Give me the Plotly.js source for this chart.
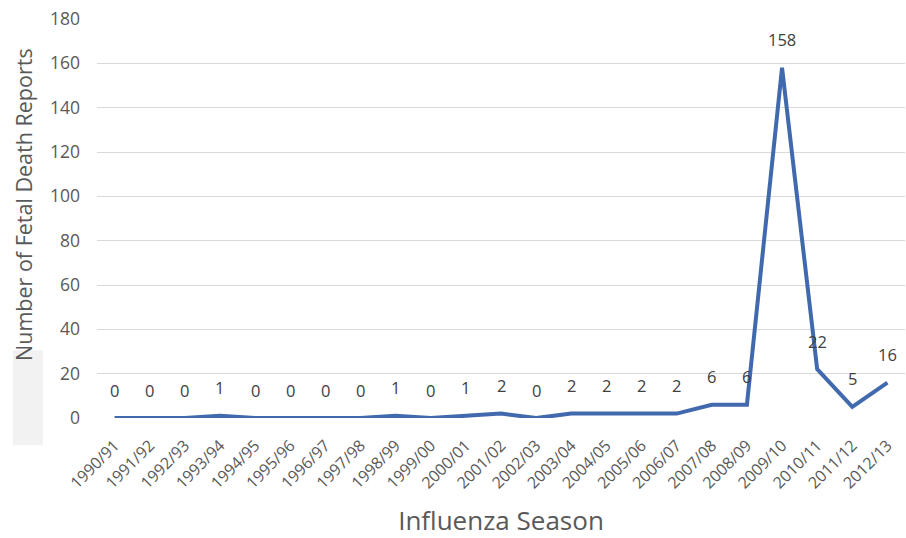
<!DOCTYPE html>
<html>
<head>
<meta charset="utf-8">
<script src="https://cdn.plot.ly/plotly-3.0.1.min.js"></script>
<style>html,body{margin:0;padding:0;background:#fff;}#chart{width:906px;height:538px;}</style>
</head>
<body>
<div id="chart"></div>
<script>
const seasons = ["1990/91","1991/92","1992/93","1993/94","1994/95","1995/96","1996/97","1997/98","1998/99","1999/00","2000/01","2001/02","2002/03","2003/04","2004/05","2005/06","2006/07","2007/08","2008/09","2009/10","2010/11","2011/12","2012/13"];
const reports = [0,0,0,1,0,0,0,0,1,0,1,2,0,2,2,2,2,6,6,158,22,5,16];
const yTicks = [0,20,40,60,80,100,120,140,160,180];

const trace = {
  x: seasons, y: reports, type: 'scatter', mode: 'lines',
  line: {color: '#4169AE', width: 4}, hoverinfo: 'skip'
};
const annotations = seasons.map((s, i) => ({
  x: s, y: reports[i], xref: 'x', yref: 'y', text: String(reports[i]),
  showarrow: false, yshift: 28,
  font: {family: 'Open Sans, Liberation Sans, sans-serif', size: 16.5, color: '#404040'}
}));
annotations.push({
  xref: 'paper', yref: 'paper', x: -0.0903, y: 0.534, textangle: -90,
  text: 'Number of Fetal Death Reports', showarrow: false,
  xanchor: 'center', yanchor: 'middle',
  font: {family: 'Open Sans, Liberation Sans, sans-serif', size: 21.5, color: '#595959'}
});
const layout = {
  width: 906, height: 538,
  margin: {l: 97, r: 1, t: 19, b: 120},
  paper_bgcolor: '#ffffff', plot_bgcolor: '#ffffff',
  showlegend: false,
  font: {family: 'Open Sans, Liberation Sans, sans-serif', color: '#595959'},
  xaxis: {
    type: 'category', range: [-0.5, 22.5], tickangle: -45,
    showgrid: false, zeroline: false, showline: false, ticks: '',
    ticklabelstandoff: 14,
    tickfont: {size: 16, color: '#595959'},
    title: {text: 'Influenza Season', font: {size: 26, color: '#595959'}, standoff: 24}
  },
  yaxis: {
    range: [0, 180], tickvals: yTicks, ticktext: yTicks.map(String),
    showgrid: true, gridcolor: '#d9d9d9', gridwidth: 1, zeroline: false, showline: false,
    ticks: '', ticklen: 0, ticklabelstandoff: 16, tickfont: {size: 17.5, color: '#595959'}
  },
  shapes: [{
    type: 'rect', xref: 'paper', yref: 'paper', layer: 'below',
    x0: -0.104, x1: -0.067, y0: -0.068, y1: 0.17,
    fillcolor: '#f2f2f2', line: {width: 0}
  }],
  annotations: annotations
};
Plotly.newPlot('chart', [trace], layout, {displayModeBar: false, staticPlot: true});
</script>
</body>
</html>
